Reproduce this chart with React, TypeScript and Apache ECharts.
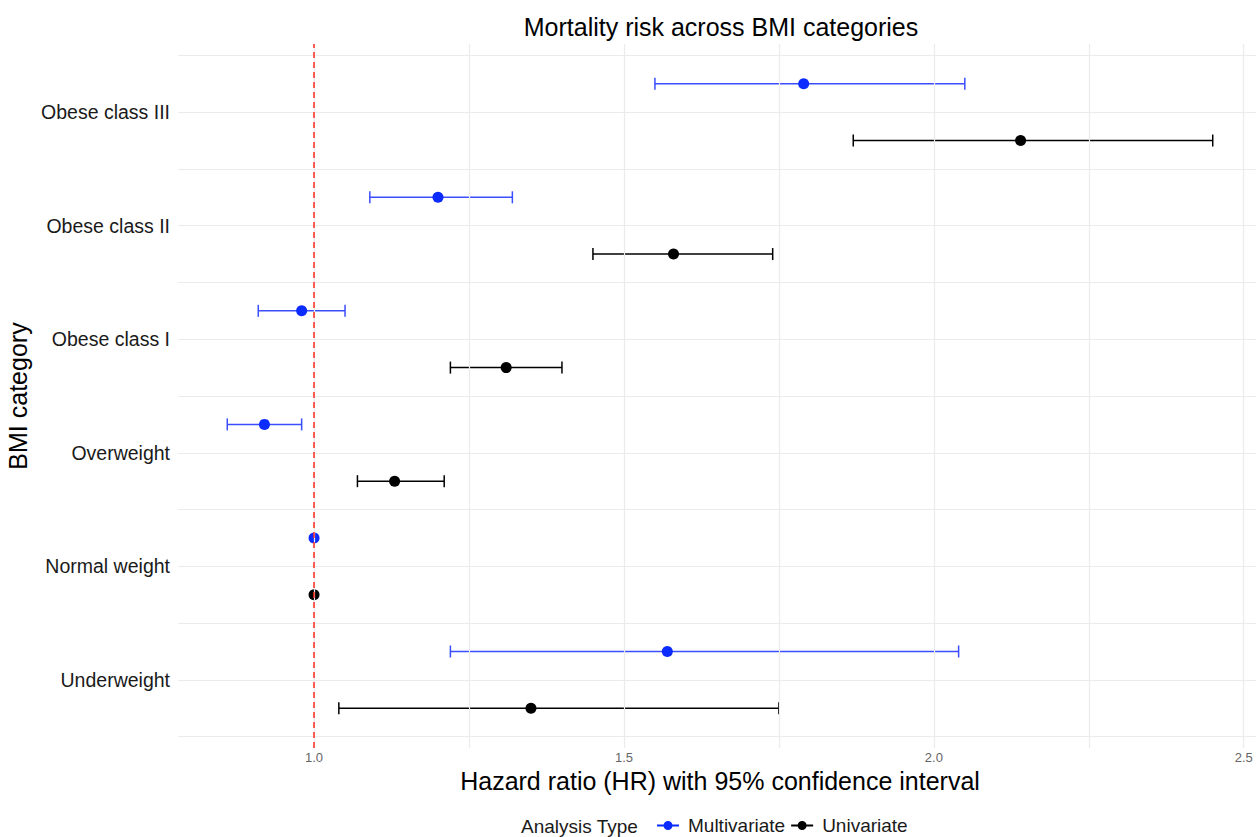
import React, { useEffect, useRef } from "react";
import * as echarts from "echarts";

const categories = ["Underweight", "Normal weight", "Overweight", "Obese class I", "Obese class II", "Obese class III"];

// Multivariate: HR, lower, upper
const multiHR = [1.57, 1.0, 0.92, 0.98, 1.2, 1.79];
const multiLow = [1.22, 1.0, 0.86, 0.91, 1.09, 1.55];
const multiHigh = [2.04, 1.0, 0.98, 1.05, 1.32, 2.05];

// Univariate: HR, lower, upper
const uniHR = [1.35, 1.0, 1.13, 1.31, 1.58, 2.14];
const uniLow = [1.04, 1.0, 1.07, 1.22, 1.45, 1.87];
const uniHigh = [1.75, 1.0, 1.21, 1.4, 1.74, 2.45];

const xTicks = [1.0, 1.5, 2.0, 2.5];
const xGrid = [1.0, 1.25, 1.5, 1.75, 2.0, 2.25, 2.5];
const yGrid = [-0.5, 0, 0.5, 1, 1.5, 2, 2.5, 3, 3.5, 4, 4.5, 5, 5.5];

const BLUE = "#0b2bff";
const BLUE_LINE = "#3a4dff";
const BLACK = "#000000";
const OFFSET = 0.25;

const legendIcon = "path://M0,5h22v2H0z M11,1.5a4.5,4.5 0 1,1 0,9a4.5,4.5 0 1,1 0,-9z";

function errorBarSeries(name: string, lows: number[], highs: number[], off: number, color: string) {
  const data = categories.map((_, i) => [lows[i], highs[i], i + off]);
  return {
    type: "custom",
    name,
    silent: true,
    z: 3,
    data,
    encode: { x: [0, 1], y: 2 },
    renderItem: (params: any, api: any) => {
      const lo = api.coord([api.value(0), api.value(2)]);
      const hi = api.coord([api.value(1), api.value(2)]);
      if (Math.abs(hi[0] - lo[0]) < 0.5) return { type: "group", children: [] };
      const h = 6;
      const st = { stroke: color, lineWidth: 1.5 };
      return {
        type: "group",
        children: [
          { type: "line", shape: { x1: lo[0], y1: lo[1], x2: hi[0], y2: hi[1] }, style: st },
          { type: "line", shape: { x1: lo[0], y1: lo[1] - h, x2: lo[0], y2: lo[1] + h }, style: st },
          { type: "line", shape: { x1: hi[0], y1: hi[1] - h, x2: hi[0], y2: hi[1] + h }, style: st },
        ],
      };
    },
  };
}

export default function App() {
  const ref = useRef<HTMLDivElement>(null);
  useEffect(() => {
    if (!ref.current) return;
    const chart = echarts.init(ref.current, null, { renderer: "svg" });
    const font = "'Liberation Sans', Arial, Helvetica, sans-serif";
    const gridColor = "#ebebeb";
    chart.setOption({
      animation: false,
      textStyle: { fontFamily: font },
      grid: { left: 178, top: 44, width: 1084, height: 704, containLabel: false, outerBoundsMode: "none" },
      xAxis: {
        type: "value",
        min: 0.7805,
        max: 2.5295,
        axisLine: { show: false },
        axisTick: { show: false },
        splitLine: { show: false },
        axisLabel: {
          customValues: xTicks,
          formatter: (v: number) => v.toFixed(1),
          fontSize: 13,
          color: "#666666",
          margin: 3,
          fontFamily: font,
        },
        name: "Hazard ratio (HR) with 95% confidence interval",
        nameLocation: "middle",
        nameGap: 17,
        nameTextStyle: { fontSize: 25, color: "#000000", fontFamily: font },
      },
      yAxis: {
        type: "value",
        min: -0.6,
        max: 5.6,
        axisLine: { show: false },
        axisTick: { show: false },
        splitLine: { show: false },
        axisLabel: {
          customValues: [0, 1, 2, 3, 4, 5],
          formatter: (v: number) => categories[Math.round(v)] ?? "",
          fontSize: 19.5,
          color: "#1a1a1a",
          margin: 8,
          fontFamily: font,
        },
        name: "BMI category",
        nameLocation: "middle",
        nameGap: 139,
        nameTextStyle: { fontSize: 25, color: "#000000", fontFamily: font },
      },
      legend: {
        left: 657,
        top: 816,
        padding: 0,
        itemWidth: 22,
        itemHeight: 12,
        itemGap: 6,
        textStyle: { fontSize: 19, color: "#1a1a1a", fontFamily: font, padding: [0, 0, 0, 4] },
        data: [
          { name: "Multivariate", icon: legendIcon, itemStyle: { color: BLUE } },
          { name: "Univariate", icon: legendIcon, itemStyle: { color: BLACK } },
        ],
      },
      graphic: [
        {
          type: "text",
          x: 721,
          y: 27,
          style: {
            text: "Mortality risk across BMI categories",
            fontSize: 25,
            fontFamily: font,
            fill: "#000000",
            textAlign: "center",
            textVerticalAlign: "middle",
          },
        },
        {
          type: "text",
          x: 521,
          y: 826,
          style: {
            text: "Analysis Type",
            fontSize: 19,
            fontFamily: font,
            fill: "#1a1a1a",
            textAlign: "left",
            textVerticalAlign: "middle",
          },
        },
      ],
      series: [
        {
          type: "line",
          name: "grid",
          data: [],
          silent: true,
          z: 0,
          markLine: {
            silent: true,
            symbol: "none",
            label: { show: false },
            animation: false,
            lineStyle: { color: gridColor, width: 1.2, type: "solid" },
            data: [
              ...yGrid.map((v) => ({ yAxis: v })),
              ...xGrid.map((v) => ({ xAxis: v })),
            ],
          },
        },
        {
          type: "line",
          name: "ref",
          data: [],
          silent: true,
          z: 1,
          markLine: {
            silent: true,
            symbol: "none",
            label: { show: false },
            animation: false,
            lineStyle: { color: "#ff2b1c", width: 1.5, type: [6, 4] },
            data: [{ xAxis: 1.0 }],
          },
        },
        errorBarSeries("Multivariate", multiLow, multiHigh, OFFSET, BLUE_LINE),
        errorBarSeries("Univariate", uniLow, uniHigh, -OFFSET, BLACK),
        {
          type: "scatter",
          name: "Multivariate",
          symbolSize: 11,
          z: 4,
          itemStyle: { color: BLUE, opacity: 1 },
          data: multiHR.map((v, i) => [v, i + OFFSET]),
        },
        {
          type: "scatter",
          name: "Univariate",
          symbolSize: 11,
          z: 4,
          itemStyle: { color: BLACK, opacity: 1 },
          data: uniHR.map((v, i) => [v, i - OFFSET]),
        },
      ],
    });
    return () => chart.dispose();
  }, []);
  return (
    <div
      ref={ref}
      style={{ position: "absolute", left: 0, top: 0, width: 1256, height: 837, background: "#ffffff" }}
    />
  );
}
